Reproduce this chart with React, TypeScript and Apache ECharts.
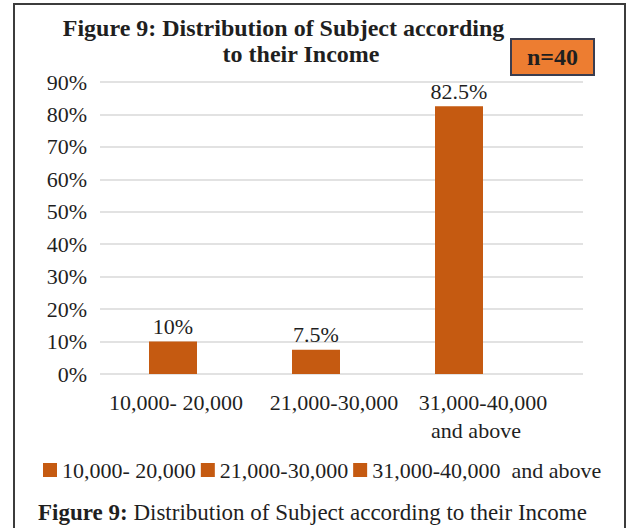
import React, { useEffect, useRef } from "react";
import * as echarts from "echarts";

const categories = ["10,000- 20,000", "21,000-30,000", "31,000-40,000\nand above"];
const values = [10, 7.5, 82.5];
const yMin = 0;
const yMax = 90;
const yStep = 10;
const sampleLabel = "n=40";
const titleLines = ["Figure 9: Distribution of Subject according", "to their Income"];
const captionBold = "Figure 9:";
const captionRest = " Distribution of Subject according to their Income";

const FONT = '"Liberation Serif", "Times New Roman", serif';
const TXT = "#1f1f1f";
const BAR = "#C55A11";

export default function App() {
  const ref = useRef<HTMLDivElement>(null);
  useEffect(() => {
    if (!ref.current) return;
    const chart = echarts.init(ref.current, undefined, { renderer: "svg" });
    const shifts = [6, 36, 48];
    const rich: any = {};
    shifts.forEach((s, i) => {
      rich["a" + i] = { fontFamily: FONT, fontSize: 22, color: TXT, lineHeight: 28, padding: [0, 0, 0, s] };
    });
    rich.b2 = { fontFamily: FONT, fontSize: 22, color: TXT, lineHeight: 28, padding: [0, 0, 0, 34] };
    chart.setOption({
      animation: false,
      textStyle: { fontFamily: FONT },
      grid: [
        { left: 100, right: 46, top: 82, height: 292 },
        { left: 101.5, width: 429, top: 82, height: 292 },
      ],
      xAxis: [
        { type: "category", gridIndex: 0, data: categories, show: false },
        {
          type: "category",
          gridIndex: 1,
          data: categories,
          axisLine: { show: false },
          axisTick: { show: false },
          axisLabel: {
            margin: 14,
            interval: 0,
            formatter: (v: string, i: number) => {
              const parts = v.split("\n");
              if (parts.length > 1) return `{a${i}|${parts[0]}}\n{b2|${parts[1]}}`;
              return `{a${i}|${v}}`;
            },
            rich,
          },
        },
      ],
      yAxis: [
        {
          type: "value",
          gridIndex: 0,
          min: yMin,
          max: yMax,
          interval: yStep,
          axisLine: { show: false },
          axisTick: { show: false },
          splitLine: { lineStyle: { color: "#D9D9D9", width: 1.5 } },
          axisLabel: {
            formatter: "{value}%",
            fontFamily: FONT,
            fontSize: 22,
            color: TXT,
            margin: 13,
            padding: [10, 0, 0, 0],
          },
        },
        {
          type: "value",
          gridIndex: 1,
          min: yMin,
          max: yMax,
          interval: yStep,
          show: false,
          splitLine: { show: false },
        },
      ],
      legend: {
        left: 38,
        top: 454,
        icon: "rect",
        itemWidth: 14,
        itemHeight: 14,
        itemGap: 5,
        formatter: (n: string) => n.replace("\n", "  "),
        textStyle: { fontFamily: FONT, fontSize: 22, color: TXT, padding: [0, 0, 0, 0] },
      },
      series: categories.map((name, i) => ({
        type: "bar",
        name,
        xAxisIndex: 1,
        yAxisIndex: 1,
        barWidth: 48,
        barGap: "-100%",
        data: values.map((v, j) => (j === i ? v : "-")),
        itemStyle: { color: BAR },
        label: {
          show: true,
          position: "top",
          distance: 4,
          formatter: (p: any) => `${p.value}%`,
          fontFamily: FONT,
          fontSize: 22,
          color: TXT,
        },
      })),
      graphic: [
        {
          type: "rect",
          shape: { x: 14, y: 4, width: 611, height: 540 },
          style: { fill: "none", stroke: "#3c3c3c", lineWidth: 2 },
          silent: true,
        },
        {
          type: "text",
          x: 283.5,
          y: 28,
          style: { text: titleLines[0], font: `bold 24px ${FONT}`, fill: TXT, align: "center", verticalAlign: "middle" },
        },
        {
          type: "text",
          x: 301,
          y: 54,
          style: { text: titleLines[1], font: `bold 24px ${FONT}`, fill: TXT, align: "center", verticalAlign: "middle" },
        },
        {
          type: "rect",
          shape: { x: 511, y: 39, width: 83, height: 36 },
          style: { fill: "#ED7D31", stroke: "#3a3d4f", lineWidth: 2 },
        },
        {
          type: "text",
          x: 552.5,
          y: 57,
          style: { text: sampleLabel, font: `bold 24px ${FONT}`, fill: TXT, align: "center", verticalAlign: "middle" },
        },
        {
          type: "text",
          x: 38,
          y: 512,
          style: {
            text: `{b|${captionBold}}{r|${captionRest}}`,
            align: "left",
            verticalAlign: "middle",
            rich: {
              b: { fontFamily: FONT, fontSize: 23, fontWeight: "bold", fill: TXT, color: TXT },
              r: { fontFamily: FONT, fontSize: 23, fill: TXT, color: TXT },
            },
          },
        },
      ],
    });
    return () => chart.dispose();
  }, []);
  return (
    <div
      ref={ref}
      style={{ position: "fixed", left: 0, top: 0, width: 629, height: 528, background: "#fff" }}
    />
  );
}
